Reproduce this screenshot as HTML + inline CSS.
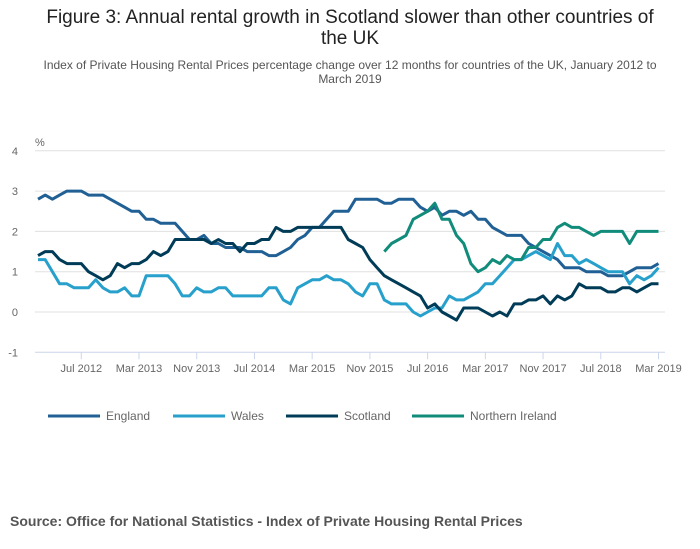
<!DOCTYPE html>
<html><head><meta charset="utf-8">
<style>
body{margin:0;background:#fff;font-family:"Liberation Sans",sans-serif;}
#wrap{position:relative;width:700px;height:549px;overflow:hidden;}
.title{position:absolute;left:0;width:700px;top:7px;text-align:center;font-size:19px;line-height:21px;color:#222;}
.sub{position:absolute;left:0;width:700px;top:58px;text-align:center;font-size:12px;line-height:14px;color:#555;}
.src{position:absolute;left:10px;top:513px;font-size:14px;font-weight:bold;color:#555;}
svg text{font-family:"Liberation Sans",sans-serif;}
</style></head><body>
<div id="wrap">
<div class="title">Figure 3: Annual rental growth in Scotland slower than other countries of<br>the UK</div>
<div class="sub">Index of Private Housing Rental Prices percentage change over 12 months for countries of the UK, January 2012 to<br>March 2019</div>
<svg id="chart" width="700" height="549" style="position:absolute;left:0;top:0"></svg>
<div class="src">Source: Office for National Statistics - Index of Private Housing Rental Prices</div>
</div>
<script>
const seriesNames=["England","Wales","Scotland","Northern Ireland"];
const seriesColors=["#206095","#27a0cc","#003c57","#118c7b"];
const england=[2.8,2.9,2.8,2.9,3.0,3.0,3.0,2.9,2.9,2.9,2.8,2.7,2.6,2.5,2.5,2.3,2.3,2.2,2.2,2.2,2.0,1.8,1.8,1.9,1.7,1.7,1.6,1.6,1.6,1.5,1.5,1.5,1.4,1.4,1.5,1.6,1.8,1.9,2.1,2.1,2.3,2.5,2.5,2.5,2.8,2.8,2.8,2.8,2.7,2.7,2.8,2.8,2.8,2.6,2.5,2.6,2.4,2.5,2.5,2.4,2.5,2.3,2.3,2.1,2.0,1.9,1.9,1.9,1.7,1.6,1.5,1.4,1.3,1.1,1.1,1.1,1.0,1.0,1.0,0.9,0.9,0.9,1.0,1.1,1.1,1.1,1.2];
const wales=[1.3,1.3,1.0,0.7,0.7,0.6,0.6,0.6,0.8,0.6,0.5,0.5,0.6,0.4,0.4,0.9,0.9,0.9,0.9,0.7,0.4,0.4,0.6,0.5,0.5,0.6,0.6,0.4,0.4,0.4,0.4,0.4,0.6,0.6,0.3,0.2,0.6,0.7,0.8,0.8,0.9,0.8,0.8,0.7,0.5,0.4,0.7,0.7,0.3,0.2,0.2,0.2,0.0,-0.1,0.0,0.1,0.1,0.4,0.3,0.3,0.4,0.5,0.7,0.7,0.9,1.1,1.3,1.3,1.4,1.5,1.4,1.3,1.7,1.4,1.4,1.2,1.3,1.2,1.1,1.0,1.0,1.0,0.7,0.9,0.8,0.9,1.1];
const scotland=[1.4,1.5,1.5,1.3,1.2,1.2,1.2,1.0,0.9,0.8,0.9,1.2,1.1,1.2,1.2,1.3,1.5,1.4,1.5,1.8,1.8,1.8,1.8,1.8,1.7,1.8,1.7,1.7,1.5,1.7,1.7,1.8,1.8,2.1,2.0,2.0,2.1,2.1,2.1,2.1,2.1,2.1,2.1,1.8,1.7,1.6,1.3,1.1,0.9,0.8,0.7,0.6,0.5,0.4,0.1,0.2,0.0,-0.1,-0.2,0.1,0.1,0.1,0.0,-0.1,0.0,-0.1,0.2,0.2,0.3,0.3,0.4,0.2,0.4,0.3,0.4,0.7,0.6,0.6,0.6,0.5,0.5,0.6,0.6,0.5,0.6,0.7,0.7];
const northernIreland=[null,null,null,null,null,null,null,null,null,null,null,null,null,null,null,null,null,null,null,null,null,null,null,null,null,null,null,null,null,null,null,null,null,null,null,null,null,null,null,null,null,null,null,null,null,null,null,null,1.5,1.7,1.8,1.9,2.3,2.4,2.5,2.7,2.3,2.3,1.9,1.7,1.2,1.0,1.1,1.3,1.2,1.4,1.3,1.3,1.6,1.6,1.8,1.8,2.1,2.2,2.1,2.1,2.0,1.9,2.0,2.0,2.0,2.0,1.7,2.0,2.0,2.0,2.0];
const yTicks=[4,3,2,1,0,-1];
const xTickLabels=["Jul 2012","Mar 2013","Nov 2013","Jul 2014","Mar 2015","Nov 2015","Jul 2016","Mar 2017","Nov 2017","Jul 2018","Mar 2019"];
const xTickIndex=[6,14,22,30,38,46,54,62,70,78,86];

const NS="http://www.w3.org/2000/svg";
const svg=document.getElementById('chart');
function x(i){return 38+i*7.215;}
function y(v){return 312-v*40.3;}
function mk(tag,attrs,parent){const e=document.createElementNS(NS,tag);for(const k in attrs)e.setAttribute(k,attrs[k]);(parent||svg).appendChild(e);return e;}

yTicks.forEach(v=>{
  if(v!==-1){const g=mk('line',{x1:35,x2:665,y1:y(v),y2:y(v),stroke:'#e0e0e0','stroke-width':1});
  
  }
  const t=mk('text',{x:18,y:y(v)+4,'text-anchor':'end','font-size':11,fill:'#666'});
  t.textContent=v;
  
  
});
const pct=mk('text',{x:35,y:146,'font-size':11,fill:'#666'});pct.textContent='%';


const ax=mk('line',{x1:35,x2:665,y1:y(-1),y2:y(-1),stroke:'#ccd6eb','stroke-width':1});


xTickLabels.forEach((lab,k)=>{
  const xi=x(xTickIndex[k]);
  const tk=mk('line',{x1:xi,x2:xi,y1:y(-1),y2:y(-1)+7,stroke:'#ccd6eb','stroke-width':1});
  
  
  const t=mk('text',{x:xi,y:372,'text-anchor':'middle','font-size':11,fill:'#666'});
  t.textContent=lab;
  
  
});
[england,wales,scotland,northernIreland].forEach((data,s)=>{
  let d='',pen=false;
  data.forEach((v,i)=>{if(v===null){pen=false;return;}d+=(pen?'L':'M')+x(i).toFixed(1)+' '+y(v).toFixed(1);pen=true;});
  const p=mk('path',{d:d,fill:'none',stroke:seriesColors[s],'stroke-width':3,'stroke-linejoin':'round'});
  
  
});
const legX=[48,173,286,412];
seriesNames.forEach((n,s)=>{
  const g=mk('g',{});
  
  
  mk('line',{x1:legX[s],x2:legX[s]+52,y1:416,y2:416,stroke:seriesColors[s],'stroke-width':3},g);
  const t=mk('text',{x:legX[s]+58,y:420,'font-size':12,fill:'#666'},g);
  t.textContent=n;
});
</script>
</body></html>
